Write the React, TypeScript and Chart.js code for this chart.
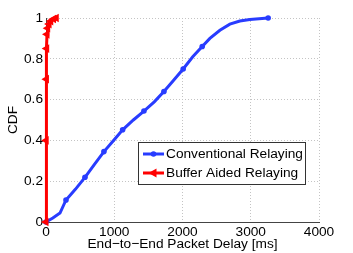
import React, { useEffect, useRef } from 'react';
import { Chart, registerables } from 'chart.js';

Chart.register(...registerables);

// ---- Data ----
const conventionalDelay = [0, 100, 205, 293, 430, 571, 710, 849, 990, 1123, 1280, 1435, 1590, 1728, 1870, 2010, 2150, 2289, 2401, 2548, 2694, 2840, 2987, 3255];
const conventionalCdf = [0, 0.02, 0.044, 0.108, 0.16, 0.219, 0.283, 0.345, 0.4, 0.452, 0.5, 0.544, 0.59, 0.64, 0.695, 0.75, 0.81, 0.86, 0.9, 0.94, 0.97, 0.985, 0.993, 1.0];
const conventionalMarkerDelays = [0, 293, 571, 849, 1123, 1435, 1728, 2010, 2289, 3255];

const bufferDelay = [0, 3, 6, 10, 15, 25, 45, 70, 110, 150];
const bufferCdf = [0, 0.4, 0.7, 0.85, 0.92, 0.95, 0.97, 0.985, 0.995, 1.0];

const seriesLabels = ['Conventional Relaying', 'Buffer Aided Relaying'];
const xTicks = [0, 1000, 2000, 3000, 4000];
const yTicks = [0, 0.2, 0.4, 0.6, 0.8, 1];
const xTitle = 'End\u2212to\u2212End Packet Delay [ms]';
const yTitle = 'CDF';

const BLUE = 'rgb(40, 60, 255)';
const RED = 'rgb(255, 0, 0)';
const FONT = '"Liberation Sans", Arial, Helvetica, sans-serif';
const FS = 13.7;

const legendPlugin = {
  id: 'boxLegend',
  afterDatasetsDraw(chart: any) {
    const ctx = chart.ctx as CanvasRenderingContext2D;
    const x0 = 138.5, y0 = 142.5, w = 167, h = 42;
    ctx.save();
    ctx.fillStyle = '#ffffff';
    ctx.fillRect(x0, y0, w, h);
    ctx.strokeStyle = '#333333';
    ctx.lineWidth = 1;
    ctx.strokeRect(x0, y0, w, h);
    const rows = [
      { y: 154, color: BLUE, label: seriesLabels[0], marker: 'dot' },
      { y: 173, color: RED, label: seriesLabels[1], marker: 'tri' },
    ];
    rows.forEach((r) => {
      ctx.strokeStyle = r.color;
      ctx.fillStyle = r.color;
      ctx.lineWidth = 3;
      ctx.beginPath();
      ctx.moveTo(143, r.y);
      ctx.lineTo(164, r.y);
      ctx.stroke();
      const cx = 153.5;
      if (r.marker === 'dot') {
        ctx.beginPath();
        ctx.arc(cx, r.y, 2.8, 0, Math.PI * 2);
        ctx.fill();
      } else {
        ctx.beginPath();
        ctx.moveTo(cx - 5, r.y);
        ctx.lineTo(cx + 3, r.y - 4.5);
        ctx.lineTo(cx + 3, r.y + 4.5);
        ctx.closePath();
        ctx.fill();
      }
      ctx.fillStyle = '#000';
      ctx.font = `${FS}px ${FONT}`;
      ctx.textBaseline = 'middle';
      ctx.textAlign = 'left';
      ctx.fillText(r.label, 166, r.y + 0.5);
    });
    ctx.restore();
  },
};

export default function App() {
  const ref = useRef<HTMLCanvasElement | null>(null);
  useEffect(() => {
    if (!ref.current) return;
    const blueData = conventionalDelay.map((x, i) => ({ x, y: conventionalCdf[i] }));
    const redData = bufferDelay.map((x, i) => ({ x, y: bufferCdf[i] }));
    const chart = new Chart(ref.current, {
      type: 'scatter',
      data: {
        datasets: [
          {
            label: seriesLabels[0],
            data: blueData,
            showLine: true,
            borderColor: BLUE,
            backgroundColor: BLUE,
            borderWidth: 3,
            pointRadius: conventionalDelay.map((d) => (conventionalMarkerDelays.includes(d) ? 2.8 : 0)),
            pointBorderWidth: 0,
            pointStyle: 'circle',
            clip: false,
            order: 1,
          } as any,
          {
            label: seriesLabels[1],
            data: redData,
            showLine: true,
            borderColor: RED,
            backgroundColor: RED,
            borderWidth: 3,
            pointRadius: 5,
            pointBorderWidth: 0,
            pointStyle: 'triangle',
            rotation: -90,
            clip: false,
            order: 0,
          } as any,
        ],
      },
      options: {
        responsive: false,
        animation: false,
        events: [],
        layout: { padding: { left: 0, top: 18, right: 34, bottom: 0 } },
        plugins: { legend: { display: false }, tooltip: { enabled: false } },
        scales: {
          x: {
            type: 'linear',
            min: 0,
            max: 4000,
            afterFit: (s: any) => { s.height = 31; },
            afterBuildTicks: (s: any) => { s.ticks = xTicks.map((v) => ({ value: v })); },
            ticks: {
              callback: (v: any) => String(v),
              color: '#000',
              padding: 3.5,
              maxRotation: 0,
              font: { family: FONT, size: FS, lineHeight: 1 },
            },
            grid: { color: '#c4c4c4', lineWidth: 1, drawTicks: false },
            border: { display: true, color: '#444', width: 1, dash: [1, 2] },
            title: {
              display: true,
              text: xTitle,
              color: '#000',
              font: { family: FONT, size: FS, lineHeight: 1 },
              padding: { top: 0, bottom: 2 },
            },
          },
          y: {
            type: 'linear',
            min: 0,
            max: 1,
            afterFit: (s: any) => { s.width = 46; },
            afterBuildTicks: (s: any) => { s.ticks = yTicks.map((v) => ({ value: v })); },
            ticks: {
              callback: (v: any) => String(v),
              color: '#000',
              padding: 3,
              font: { family: FONT, size: FS, lineHeight: 1 },
            },
            grid: { color: '#c4c4c4', lineWidth: 1, drawTicks: false },
            border: { display: true, color: '#444', width: 1, dash: [1, 2] },
            title: {
              display: true,
              text: yTitle,
              color: '#000',
              font: { family: FONT, size: FS, lineHeight: 1 },
              padding: { top: 6, bottom: 0 },
            },
          },
        },
      },
      plugins: [legendPlugin],
    } as any);
    return () => chart.destroy();
  }, []);
  return (
    <div style={{ position: 'fixed', left: 0, top: 0, width: 353, height: 253, background: '#fff' }}>
      <canvas ref={ref} width={353} height={253} style={{ display: 'block' }} />
    </div>
  );
}
